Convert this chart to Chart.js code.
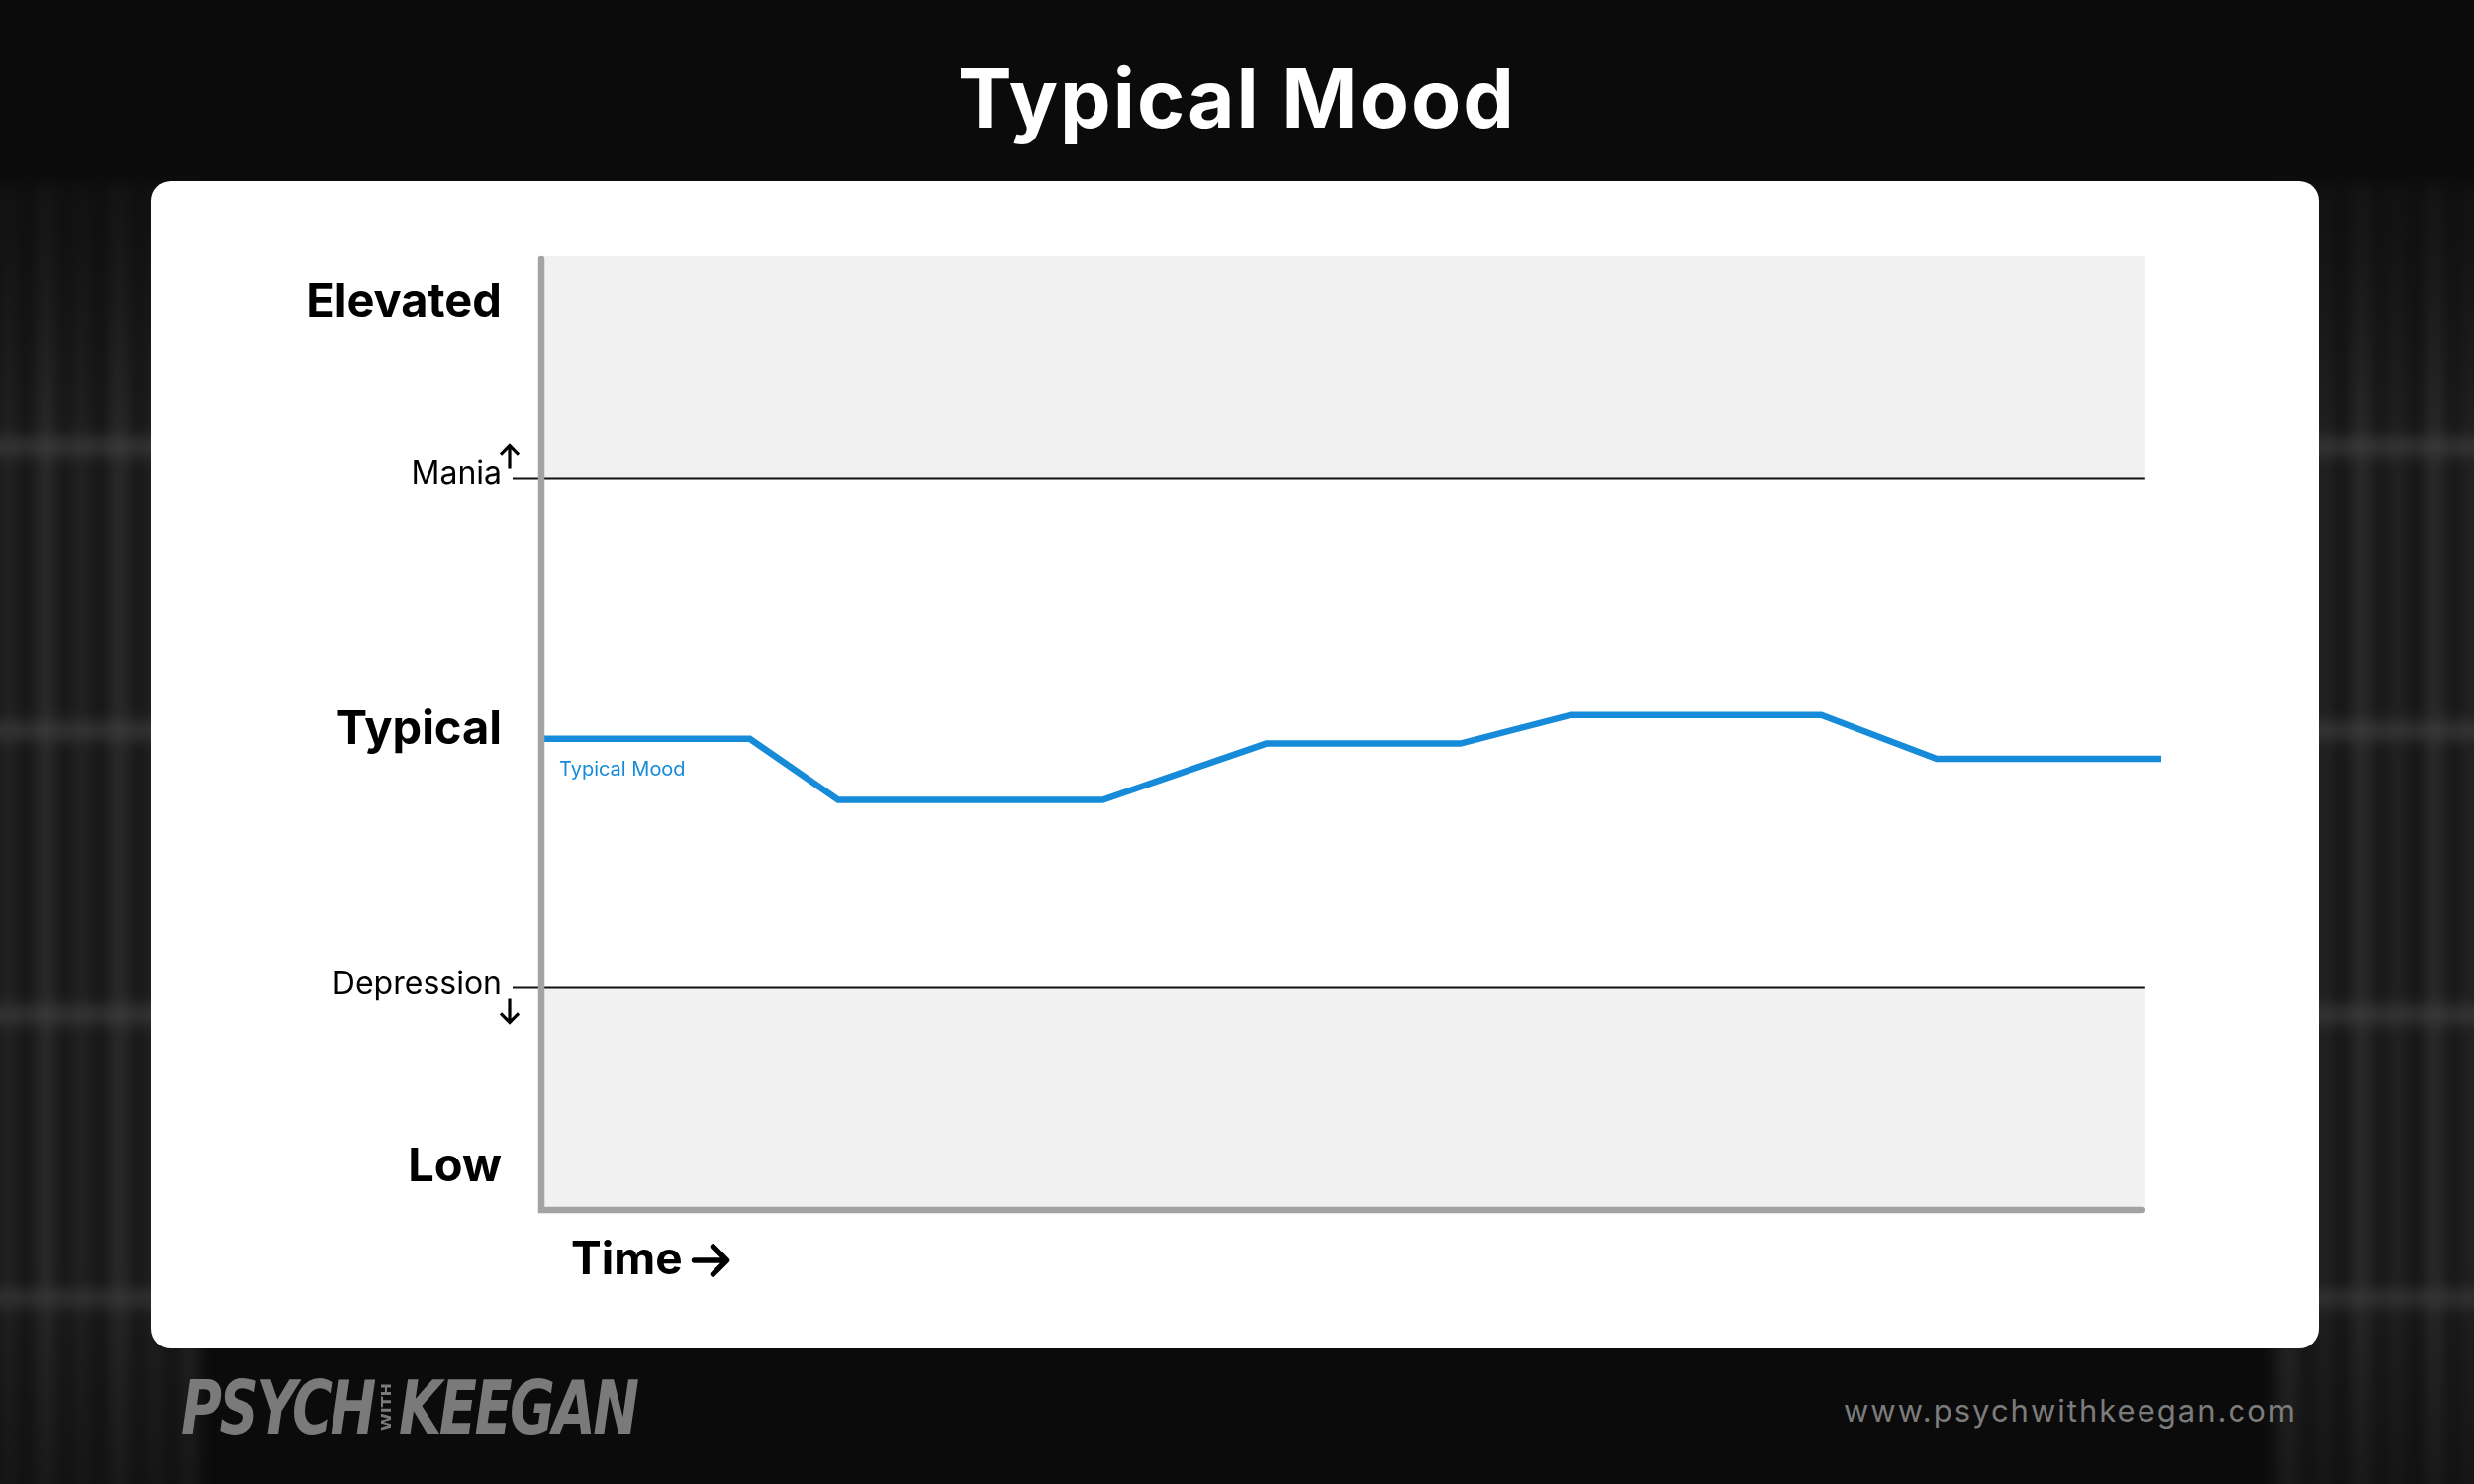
<!DOCTYPE html>
<html>
<head>
<meta charset="utf-8">
<title>Typical Mood</title>
<script src="https://cdn.jsdelivr.net/npm/chart.js@4.4.0/dist/chart.umd.min.js"></script>
<style>
  html, body { margin: 0; padding: 0; }
  body {
    width: 2500px; height: 1500px; position: relative; overflow: hidden;
    background: #0b0b0b;
    font-family: Inter, "Noto Sans", sans-serif;
  }
  .shelf {
    position: absolute; top: 185px; height: 1400px; width: 240px;
    filter: blur(8px);
    background:
      repeating-linear-gradient(0deg, rgba(0,0,0,0) 0 265px, rgba(75,75,75,0.6) 265px 280px, rgba(0,0,0,0) 280px 287px),
      repeating-linear-gradient(90deg, rgba(44,44,44,0.9) 0 24px, rgba(16,16,16,0.9) 24px 36px, rgba(34,34,34,0.9) 36px 62px, rgba(12,12,12,0.9) 62px 74px),
      #191919;
  }
  .shelf.left { left: -40px; }
  .shelf.right { right: -40px; }
  .fade {
    position: absolute; inset: 0;
    background:
      linear-gradient(180deg, rgba(11,11,11,1) 0%, rgba(11,11,11,0.6) 16%, rgba(11,11,11,0) 30%, rgba(11,11,11,0) 85%, rgba(11,11,11,0.5) 100%);
  }
  .title {
    position: absolute; left: 0; top: 59px; width: 2500px;
    text-align: center; color: #fff;
    font: 700 82px/82px Inter, sans-serif; letter-spacing: 2px;
  }
  .card {
    position: absolute; left: 153px; top: 183px; width: 2190px; height: 1180px;
    background: #fff; border-radius: 20px; overflow: hidden;
  }
  .card canvas { display: block; }
  .logo {
    position: absolute; left: 183px; top: 1386px; height: 74px;
    color: #7a7a7a; font: italic 700 74px/74px "DejaVu Sans Condensed", "DejaVu Sans", sans-serif;
    letter-spacing: -3px; white-space: nowrap;
    transform: scaleX(0.84); transform-origin: 0 0;
  }
  .logo .with {
    display: inline-block; font: 700 16px/16px "DejaVu Sans", sans-serif; letter-spacing: 0;
    transform: rotate(-90deg); vertical-align: middle; margin: 0 -10px 0 -8px; position: relative; top: -6px;
  }
  .url {
    position: absolute; left: 1863px; top: 1408px; color: #7c7c7c;
    font: 400 31px/36px Inter, sans-serif; letter-spacing: 2px; white-space: nowrap;
  }
</style>
</head>
<body>
<div class="shelf left"></div>
<div class="shelf right"></div>
<div class="fade"></div>
<div class="title">Typical Mood</div>
<div class="card"><canvas id="moodChart" width="2190" height="1180"></canvas></div>
<div class="logo">PSYCH<span class="with">WITH</span>KEEGAN</div>
<div class="url">www.psychwithkeegan.com</div>

<script>
// data
const timePoints = [0, 13, 18.5, 35, 45.2, 57.3, 64.2, 79.8, 87, 101];
const moodValues = [49.4, 49.4, 43, 43, 48.9, 48.9, 51.9, 51.9, 47.3, 47.3];
const levelLabels = ['Low', 'Depression', 'Typical', 'Mania', 'Elevated'];
const levelValues = [4.5, 23.6, 50.3, 77.1, 95.1];
const maniaLevel = 76.7;
const depressionLevel = 23.3;
const bandEnd = 100;
const seriesName = 'Typical Mood';
const xAxisName = 'Time';

const BLUE = '#168bd9';
const AXIS_GREY = '#a3a3a3';
const BAND = '#f1f1f1';

// bands, threshold lines, axes and annotations
const moodPlugin = {
  id: 'moodDecor',
  beforeDatasetsDraw(chart) {
    const { ctx, chartArea, scales: { x, y } } = chart;
    const right = x.getPixelForValue(bandEnd);
    const yTop = y.getPixelForValue(100), yMania = y.getPixelForValue(maniaLevel);
    const yDep = y.getPixelForValue(depressionLevel), yLow = y.getPixelForValue(0);
    ctx.save();
    ctx.fillStyle = BAND;
    ctx.fillRect(chartArea.left, yTop, right - chartArea.left, yMania - yTop);
    ctx.fillRect(chartArea.left, yDep, right - chartArea.left, yLow - yDep);
    ctx.strokeStyle = '#111';
    ctx.lineWidth = 2;
    [yMania, yDep].forEach(py => {
      ctx.beginPath();
      ctx.moveTo(chartArea.left - 29, py);
      ctx.lineTo(right, py);
      ctx.stroke();
    });
    ctx.restore();
  },
  afterDatasetsDraw(chart) {
    const { ctx, chartArea, scales: { x, y } } = chart;
    const right = x.getPixelForValue(bandEnd);
    ctx.save();
    // axes
    ctx.strokeStyle = AXIS_GREY;
    ctx.lineWidth = 6.5;
    ctx.lineCap = 'round';
    ctx.lineJoin = 'miter';
    ctx.beginPath();
    ctx.moveTo(chartArea.left, chartArea.top + 3);
    ctx.lineTo(chartArea.left, chartArea.bottom);
    ctx.lineTo(right - 3, chartArea.bottom);
    ctx.stroke();

    // arrows next to Mania / Depression
    const ax = chartArea.left - 32;
    const yMania = y.getPixelForValue(maniaLevel), yDep = y.getPixelForValue(depressionLevel);
    ctx.strokeStyle = '#000';
    ctx.lineWidth = 3.2;
    ctx.lineCap = 'butt';
    ctx.lineJoin = 'miter';
    ctx.beginPath();
    ctx.moveTo(ax, yMania - 10); ctx.lineTo(ax, yMania - 33);
    ctx.moveTo(ax - 9, yMania - 24); ctx.lineTo(ax, yMania - 33); ctx.lineTo(ax + 9, yMania - 24);
    ctx.moveTo(ax, yDep + 11); ctx.lineTo(ax, yDep + 35);
    ctx.moveTo(ax - 9, yDep + 26); ctx.lineTo(ax, yDep + 35); ctx.lineTo(ax + 9, yDep + 26);
    ctx.stroke();

    // series label under the start of the line
    const ds = chart.data.datasets[0];
    ctx.fillStyle = BLUE;
    ctx.font = '400 20px Inter, sans-serif';
    ctx.textAlign = 'left';
    ctx.textBaseline = 'middle';
    ctx.fillText(ds.label, x.getPixelForValue(timePoints[0]) + 18, y.getPixelForValue(moodValues[0]) + 31);

    // x axis name with arrow
    ctx.fillStyle = '#000';
    ctx.font = '700 46px Inter, sans-serif';
    const tx = chartArea.left + 30, ty = chartArea.bottom + 51;
    ctx.fillText(xAxisName, tx, ty);
    const ex = tx + ctx.measureText(xAxisName).width + 12;
    ctx.strokeStyle = '#000';
    ctx.lineWidth = 5.5;
    ctx.lineCap = 'round';
    ctx.lineJoin = 'round';
    ctx.beginPath();
    ctx.moveTo(ex, ty); ctx.lineTo(ex + 32, ty);
    ctx.moveTo(ex + 19, ty - 14); ctx.lineTo(ex + 33, ty); ctx.lineTo(ex + 19, ty + 14);
    ctx.stroke();
    ctx.restore();
  }
};

const ctx = document.getElementById('moodChart').getContext('2d');
new Chart(ctx, {
  type: 'line',
  data: {
    datasets: [{
      label: seriesName,
      data: timePoints.map((t, i) => ({ x: t, y: moodValues[i] })),
      borderColor: BLUE,
      borderWidth: 6.5,
      pointRadius: 0,
      tension: 0,
      borderCapStyle: 'butt',
      borderJoinStyle: 'miter',
      fill: false
    }]
  },
  options: {
    responsive: false,
    animation: false,
    layout: { padding: { top: 76, right: 159, left: 0, bottom: 0 } },
    plugins: { legend: { display: false }, tooltip: { enabled: false } },
    scales: {
      x: {
        type: 'linear',
        min: timePoints[0],
        max: timePoints[timePoints.length - 1],
        grid: { display: false },
        border: { display: false },
        ticks: { display: false },
        afterFit: s => { s.height = 140; }
      },
      y: {
        min: 0,
        max: 100,
        grid: { display: false, drawTicks: false },
        border: { display: false },
        afterBuildTicks: s => { s.ticks = levelValues.map(v => ({ value: v })); },
        afterFit: s => { s.width = 394; },
        ticks: {
          autoSkip: false,
          padding: 40,
          color: '#000',
          callback: (v, i) => levelLabels[i],
          font: c => (c.index === 1 || c.index === 3)
            ? { family: 'Inter', size: 32, weight: '400' }
            : { family: 'Inter', size: 47, weight: '700' }
        }
      }
    }
  },
  plugins: [moodPlugin]
});
</script>
</body>
</html>
